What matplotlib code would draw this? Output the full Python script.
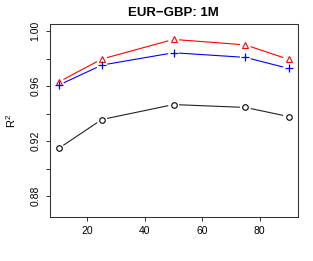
import numpy as np
import matplotlib
matplotlib.use("Agg")
import matplotlib.pyplot as plt

plt.rcParams['font.family'] = ['Liberation Sans', 'DejaVu Sans']
plt.rcParams['mathtext.fontset'] = 'custom'
plt.rcParams['mathtext.rm'] = 'Liberation Sans'

# data
horizon = [10, 25, 50, 75, 90]
r2_black = [0.9147, 0.9357, 0.9466, 0.9445, 0.9379]
r2_red = [0.9630, 0.9797, 0.9940, 0.9900, 0.9795]
r2_blue = [0.9607, 0.9753, 0.9843, 0.9809, 0.9729]

yticks = [0.88, 0.90, 0.92, 0.94, 0.96, 0.98, 1.00]
ytick_labels = ['0.88', '', '0.92', '', '0.96', '', '1.00']
xticks = [20, 40, 60, 80]
title = "EUR\u2212GBP: 1M"


def gapped_line(ax, x, y, color, gap=5.5):
    # R type="b": line segments stop short of the points
    pts = ax.transData.transform(np.column_stack([x, y]))
    inv = ax.transData.inverted()
    for p0, p1 in zip(pts[:-1], pts[1:]):
        d = p1 - p0
        L = np.hypot(*d)
        if L <= 2 * gap:
            continue
        u = d / L
        a = inv.transform(p0 + u * gap)
        b = inv.transform(p1 - u * gap)
        ax.plot([a[0], b[0]], [a[1], b[1]], color=color, lw=0.8,
                solid_capstyle='butt')


fig = plt.figure(figsize=(3.13, 2.61), dpi=100)
ax = fig.add_axes([49.5 / 313, 1 - 217 / 261, (297.7 - 49.5) / 313, (217 - 24) / 261])
ax.set_xlim(6.8, 93.2)
ax.set_ylim(0.8648, 1.0052)

gapped_line(ax, horizon, r2_black, '#222222')
gapped_line(ax, horizon, r2_red, 'red')
gapped_line(ax, horizon, r2_blue, 'blue')

ax.plot(horizon, r2_black, ls='none', marker='o', ms=4.0, mfc='none',
        mec='black', mew=0.8)
ax.plot(horizon, r2_red, ls='none', marker='^', ms=5.0, mfc='none',
        mec='red', mew=0.8)
ax.plot(horizon, r2_blue, ls='none', marker='+', ms=6.2, mec='blue', mew=0.9)

ax.set_yticks(yticks)
ax.set_yticklabels(ytick_labels, rotation=90, va='center')
ax.set_xticks(xticks)
ax.tick_params(axis='both', length=3, width=0.7, labelsize=7.5, color='#333333')
ax.tick_params(axis='y', pad=3.5)
ax.tick_params(axis='x', pad=3.5)
for s in ax.spines.values():
    s.set_linewidth(0.75)
    s.set_color('#333333')

ax.set_ylabel(r'$\mathregular{R^2}$', fontsize=8, labelpad=9)
ax.set_title(title, fontsize=9.5, fontweight='bold', pad=5.5)

fig.savefig('out.png', dpi=100)
